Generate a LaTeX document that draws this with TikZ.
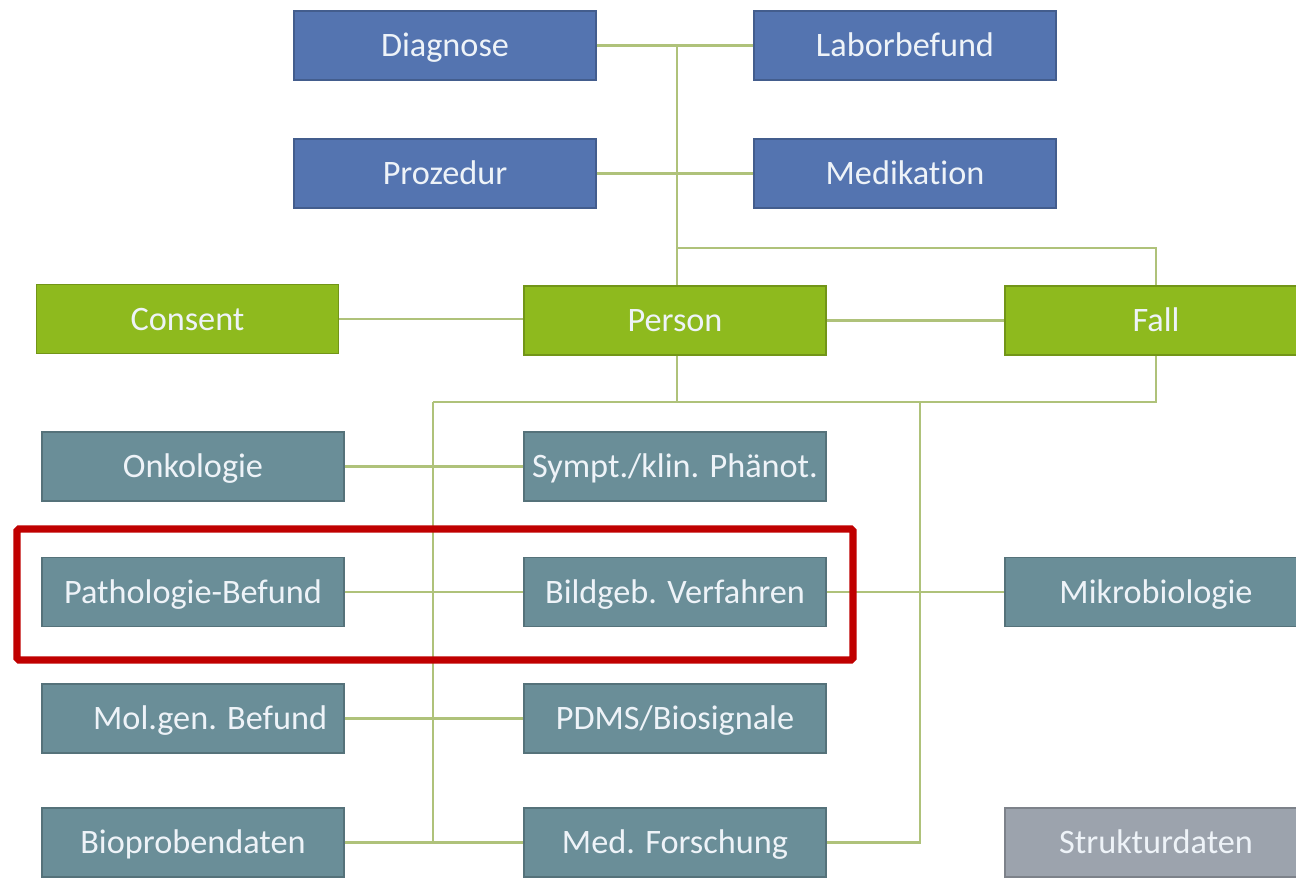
\documentclass[tikz,border=0pt]{standalone}
\usepackage{fontspec}
\setmainfont[RawFeature={-liga;-clig;-calt;-dlig}]{Carlito}
\definecolor{boxblue}{HTML}{5474B0}
\definecolor{boxgreen}{HTML}{8EBA1E}
\definecolor{boxteal}{HTML}{6A8E98}
\definecolor{boxgray}{HTML}{9CA3AD}
\definecolor{linkgreen}{HTML}{AFC27A}
\definecolor{markred}{HTML}{C00000}
\definecolor{textwhite}{HTML}{EEF3F8}
\begin{document}
\begin{tikzpicture}[x=0.02cm, y=-0.02cm,
    entity/.style={rectangle, minimum width=6.04cm, minimum height=1.38cm,
      inner sep=0pt, text height=14.6pt, text depth=1.6pt,
      text=textwhite, font=\fontsize{19.5}{22}\selectfont, line width=0.8pt},
    kern/.style={entity, fill=boxblue, draw=boxblue!80!black},
    core/.style={entity, fill=boxgreen, draw=boxgreen!80!black},
    module/.style={entity, fill=boxteal, draw=boxteal!80!black},
    infra/.style={entity, fill=boxgray, draw=boxgray!80!black},
    link/.style={draw=linkgreen, line width=1.4pt}]
     \clip (0,0) rectangle (1296,879);
     \fill[white] (0,0) rectangle (1296,879);
     % Basismodule
     \node[kern] (diag) at (445,45.5) {Diagnose};
     \node[kern] (labor) at (905,45.5) {Laborbefund};
     \node[kern] (proz) at (445,173.5) {Prozedur};
     \node[kern] (medi) at (905,173.5) {Medikation};
     \node[core] (consent) at (187.5,319) {Consent};
     \node[core] (person) at (675,320.5) {Person};
     \node[core] (fall) at (1156,320.5) {Fall};
     % Erweiterungsmodule
     \node[module] (onko) at (193,466.5) {Onkologie};
     \node[module] (sympt) at (675,466.5) {Sympt./klin. Phänot.};
     \node[module] (patho) at (193,592) {Pathologie-Befund};
     \node[module] (bild) at (675,592) {Bildgeb. Verfahren};
     \node[module] (mikro) at (1156,592) {Mikrobiologie};
     \node[module] (molgen) at (193,718.5) {\hspace*{1em}Mol.gen. Befund};
     \node[module] (pdms) at (675,718.5) {PDMS/Biosignale};
     \node[module] (biopro) at (193,842.5) {Bioprobendaten};
     \node[module] (forsch) at (675,842.5) {Med. Forschung};
     \node[infra] (struktur) at (1156,842.5) {Strukturdaten};
     % Verbindungen
     \coordinate (trunk) at (677,45.5);
     \coordinate (falljoin) at (677,248);
     \coordinate (busl) at (433,402);
     \coordinate (busr) at (920,402);
     \draw[link] (diag) -- (labor);
     \draw[link] (proz) -- (medi);
     \draw[link] (trunk) -- (trunk |- person.north);
     \draw[link] (falljoin) -| (fall.north);
     \draw[link] (consent.east) -- (consent.east -| person.west);
     \draw[link] (person) -- (fall);
     \draw[link] (person.south -| trunk) -- (trunk |- busl);
     \draw[link] (busl) -| (fall.south);
     \draw[link] (busl) -- (busl |- biopro.east);
     \draw[link] (busr) |- (forsch.east);
     \draw[link] (onko) -- (sympt);
     \draw[link] (patho) -- (bild);
     \draw[link] (bild) -- (mikro);
     \draw[link] (molgen) -- (pdms);
     \draw[link] (biopro) -- (forsch);
     % Markierung
     \draw[markred, line width=4pt, rounded corners=1pt] (17,529) rectangle (853,660);
\end{tikzpicture}
\end{document}
